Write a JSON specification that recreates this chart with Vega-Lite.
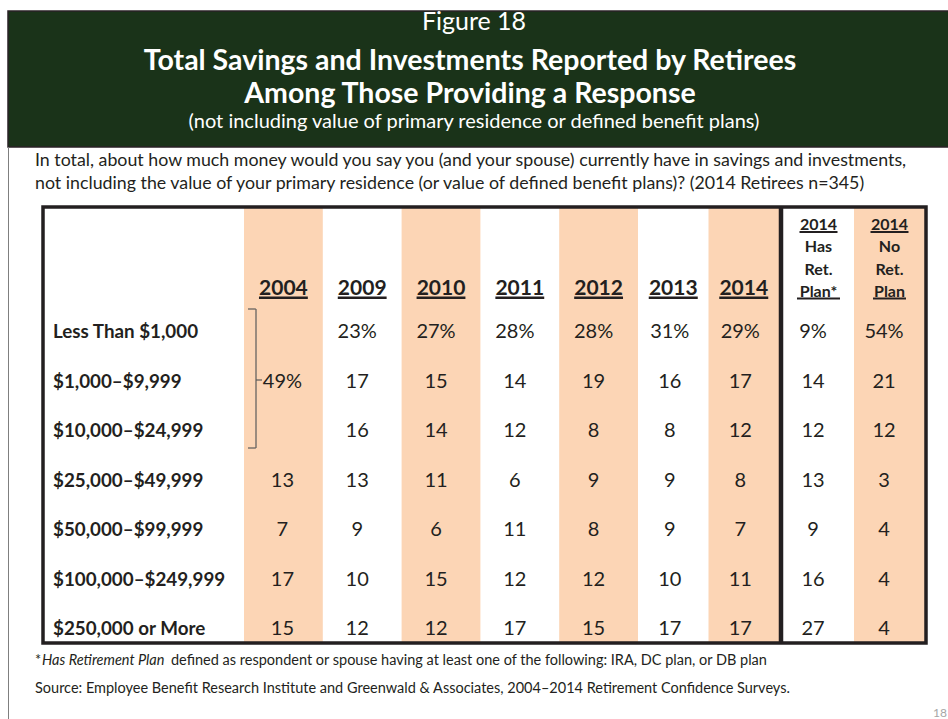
{
  "$schema": "https://vega.github.io/schema/vega-lite/v6.json",
  "width": 948,
  "height": 719,
  "autosize": {"type": "fit", "contains": "padding"},
  "padding": 0,
  "background": "white",
  "config": {"view": {"stroke": null}, "text": {"font": "Lato", "color": "#231f20"}},
  "datasets": {
    "texts": [
      {"id": "fig", "text": "Figure 18"},
      {"id": "title", "text": "Total Savings and Investments Reported by Retirees\nAmong Those Providing a Response"},
      {"id": "sub", "text": "(not including value of primary residence or defined benefit plans)"},
      {"id": "q", "text": "In total, about how much money would you say you (and your spouse) currently have in savings and investments,\nnot including the value of your primary residence (or value of defined benefit plans)? (2014 Retirees n=345)"},
      {"id": "fn1", "text": "*"},
      {"id": "fn2", "text": "Has Retirement Plan"},
      {"id": "fn3", "text": "defined as respondent or spouse having at least one of the following: IRA, DC plan, or DB plan"},
      {"id": "src", "text": "Source:  Employee Benefit Research Institute and Greenwald & Associates, 2004–2014 Retirement Confidence Surveys."},
      {"id": "pg", "text": "18"}
    ],
    "cols": [
      {"col": "2004", "label": "2004"},
      {"col": "2009", "label": "2009"},
      {"col": "2010", "label": "2010"},
      {"col": "2011", "label": "2011"},
      {"col": "2012", "label": "2012"},
      {"col": "2013", "label": "2013"},
      {"col": "2014", "label": "2014"},
      {"col": "Has", "label": "2014\nHas\nRet.\nPlan*"},
      {"col": "No", "label": "2014\nNo\nRet.\nPlan"}
    ],
    "rows": [
      {"row": "Less Than $1,000"},
      {"row": "$1,000–$9,999"},
      {"row": "$10,000–$24,999"},
      {"row": "$25,000–$49,999"},
      {"row": "$50,000–$99,999"},
      {"row": "$100,000–$249,999"},
      {"row": "$250,000 or More"}
    ],
    "cells": [
      {"row": "Less Than $1,000", "col": "2009", "value": "23%"},
      {"row": "Less Than $1,000", "col": "2010", "value": "27%"},
      {"row": "Less Than $1,000", "col": "2011", "value": "28%"},
      {"row": "Less Than $1,000", "col": "2012", "value": "28%"},
      {"row": "Less Than $1,000", "col": "2013", "value": "31%"},
      {"row": "Less Than $1,000", "col": "2014", "value": "29%"},
      {"row": "Less Than $1,000", "col": "Has", "value": "9%"},
      {"row": "Less Than $1,000", "col": "No", "value": "54%"},
      {"row": "$1,000–$9,999", "col": "2004", "value": "49%"},
      {"row": "$1,000–$9,999", "col": "2009", "value": "17"},
      {"row": "$1,000–$9,999", "col": "2010", "value": "15"},
      {"row": "$1,000–$9,999", "col": "2011", "value": "14"},
      {"row": "$1,000–$9,999", "col": "2012", "value": "19"},
      {"row": "$1,000–$9,999", "col": "2013", "value": "16"},
      {"row": "$1,000–$9,999", "col": "2014", "value": "17"},
      {"row": "$1,000–$9,999", "col": "Has", "value": "14"},
      {"row": "$1,000–$9,999", "col": "No", "value": "21"},
      {"row": "$10,000–$24,999", "col": "2009", "value": "16"},
      {"row": "$10,000–$24,999", "col": "2010", "value": "14"},
      {"row": "$10,000–$24,999", "col": "2011", "value": "12"},
      {"row": "$10,000–$24,999", "col": "2012", "value": "8"},
      {"row": "$10,000–$24,999", "col": "2013", "value": "8"},
      {"row": "$10,000–$24,999", "col": "2014", "value": "12"},
      {"row": "$10,000–$24,999", "col": "Has", "value": "12"},
      {"row": "$10,000–$24,999", "col": "No", "value": "12"},
      {"row": "$25,000–$49,999", "col": "2004", "value": "13"},
      {"row": "$25,000–$49,999", "col": "2009", "value": "13"},
      {"row": "$25,000–$49,999", "col": "2010", "value": "11"},
      {"row": "$25,000–$49,999", "col": "2011", "value": "6"},
      {"row": "$25,000–$49,999", "col": "2012", "value": "9"},
      {"row": "$25,000–$49,999", "col": "2013", "value": "9"},
      {"row": "$25,000–$49,999", "col": "2014", "value": "8"},
      {"row": "$25,000–$49,999", "col": "Has", "value": "13"},
      {"row": "$25,000–$49,999", "col": "No", "value": "3"},
      {"row": "$50,000–$99,999", "col": "2004", "value": "7"},
      {"row": "$50,000–$99,999", "col": "2009", "value": "9"},
      {"row": "$50,000–$99,999", "col": "2010", "value": "6"},
      {"row": "$50,000–$99,999", "col": "2011", "value": "11"},
      {"row": "$50,000–$99,999", "col": "2012", "value": "8"},
      {"row": "$50,000–$99,999", "col": "2013", "value": "9"},
      {"row": "$50,000–$99,999", "col": "2014", "value": "7"},
      {"row": "$50,000–$99,999", "col": "Has", "value": "9"},
      {"row": "$50,000–$99,999", "col": "No", "value": "4"},
      {"row": "$100,000–$249,999", "col": "2004", "value": "17"},
      {"row": "$100,000–$249,999", "col": "2009", "value": "10"},
      {"row": "$100,000–$249,999", "col": "2010", "value": "15"},
      {"row": "$100,000–$249,999", "col": "2011", "value": "12"},
      {"row": "$100,000–$249,999", "col": "2012", "value": "12"},
      {"row": "$100,000–$249,999", "col": "2013", "value": "10"},
      {"row": "$100,000–$249,999", "col": "2014", "value": "11"},
      {"row": "$100,000–$249,999", "col": "Has", "value": "16"},
      {"row": "$100,000–$249,999", "col": "No", "value": "4"},
      {"row": "$250,000 or More", "col": "2004", "value": "15"},
      {"row": "$250,000 or More", "col": "2009", "value": "12"},
      {"row": "$250,000 or More", "col": "2010", "value": "12"},
      {"row": "$250,000 or More", "col": "2011", "value": "17"},
      {"row": "$250,000 or More", "col": "2012", "value": "15"},
      {"row": "$250,000 or More", "col": "2013", "value": "17"},
      {"row": "$250,000 or More", "col": "2014", "value": "17"},
      {"row": "$250,000 or More", "col": "Has", "value": "27"},
      {"row": "$250,000 or More", "col": "No", "value": "4"}
    ]
  },
  "resolve": {"scale": {"x": "independent", "y": "independent"}},
  "layer": [
    {
      "data": {"values": [{}]},
      "mark": {"type": "rect", "fill": "#1a3319", "stroke": "#2a2226", "strokeWidth": 1.5},
      "encoding": {
        "x": {"datum": 8, "type": "quantitative", "scale": {"domain": [0, 948], "range": [0, 948], "nice": false, "zero": false}, "axis": null},
        "x2": {"datum": 950},
        "y": {"datum": 11, "type": "quantitative", "scale": {"domain": [0, 719], "range": [0, 719], "nice": false, "zero": false}, "axis": null},
        "y2": {"datum": 147}
      }
    },
    {
      "data": {"values": [{}]},
      "mark": {"type": "rule", "color": "#7f7f7f", "strokeWidth": 1},
      "encoding": {
        "x": {"datum": 8.5, "type": "quantitative", "scale": {"domain": [0, 948], "range": [0, 948], "nice": false, "zero": false}, "axis": null},
        "y": {"datum": 147, "type": "quantitative", "scale": {"domain": [0, 719], "range": [0, 719], "nice": false, "zero": false}, "axis": null},
        "y2": {"datum": 719}
      }
    },
    {
      "data": {"name": "cols"},
      "transform": [{"filter": {"field": "col", "oneOf": ["2004", "2010", "2012"]}}],
      "mark": {"type": "rect", "fill": "#fcd5b5"},
      "encoding": {
        "x": {"field": "col", "type": "nominal", "scale": {"type": "band", "domain": ["2004", "2009", "2010", "2011", "2012"], "range": [244, 638], "paddingInner": 0, "paddingOuter": 0}, "axis": null},
        "y": {"datum": 207, "type": "quantitative", "scale": {"domain": [0, 719], "range": [0, 719], "nice": false, "zero": false}, "axis": null},
        "y2": {"datum": 643}
      }
    },
    {
      "data": {"name": "cols"},
      "transform": [{"filter": {"field": "col", "oneOf": ["2014"]}}],
      "mark": {"type": "rect", "fill": "#fcd5b5"},
      "encoding": {
        "x": {"field": "col", "type": "nominal", "scale": {"type": "band", "domain": ["2013", "2014"], "range": [638, 779], "paddingInner": 0, "paddingOuter": 0}, "axis": null},
        "y": {"datum": 207, "type": "quantitative", "scale": {"domain": [0, 719], "range": [0, 719], "nice": false, "zero": false}, "axis": null},
        "y2": {"datum": 643}
      }
    },
    {
      "data": {"name": "cols"},
      "transform": [{"filter": {"field": "col", "oneOf": ["No"]}}],
      "mark": {"type": "rect", "fill": "#fcd5b5"},
      "encoding": {
        "x": {"field": "col", "type": "nominal", "scale": {"type": "band", "domain": ["Has", "No"], "range": [783, 925], "paddingInner": 0, "paddingOuter": 0}, "axis": null},
        "y": {"datum": 207, "type": "quantitative", "scale": {"domain": [0, 719], "range": [0, 719], "nice": false, "zero": false}, "axis": null},
        "y2": {"datum": 643}
      }
    },
    {
      "data": {"name": "texts"},
      "transform": [{"filter": "datum.id === 'fig'"}],
      "mark": {"type": "text", "fontSize": 25, "color": "white", "align": "center", "baseline": "alphabetic"},
      "encoding": {
        "x": {"datum": 474, "type": "quantitative", "scale": {"domain": [0, 948], "range": [0, 948], "nice": false, "zero": false}, "axis": null},
        "y": {"datum": 30, "type": "quantitative", "scale": {"domain": [0, 719], "range": [0, 719], "nice": false, "zero": false}, "axis": null},
        "text": {"field": "text"}
      }
    },
    {
      "data": {"name": "texts"},
      "transform": [{"filter": "datum.id === 'title'"}],
      "mark": {"type": "text", "fontSize": 28.5, "fontWeight": "bold", "color": "white", "align": "center", "baseline": "alphabetic", "lineBreak": "\n", "lineHeight": 33},
      "encoding": {
        "x": {"datum": 470, "type": "quantitative", "scale": {"domain": [0, 948], "range": [0, 948], "nice": false, "zero": false}, "axis": null},
        "y": {"datum": 70, "type": "quantitative", "scale": {"domain": [0, 719], "range": [0, 719], "nice": false, "zero": false}, "axis": null},
        "text": {"field": "text"}
      }
    },
    {
      "data": {"name": "texts"},
      "transform": [{"filter": "datum.id === 'sub'"}],
      "mark": {"type": "text", "fontSize": 20, "color": "white", "align": "center", "baseline": "alphabetic"},
      "encoding": {
        "x": {"datum": 474, "type": "quantitative", "scale": {"domain": [0, 948], "range": [0, 948], "nice": false, "zero": false}, "axis": null},
        "y": {"datum": 128, "type": "quantitative", "scale": {"domain": [0, 719], "range": [0, 719], "nice": false, "zero": false}, "axis": null},
        "text": {"field": "text"}
      }
    },
    {
      "data": {"name": "texts"},
      "transform": [{"filter": "datum.id === 'q'"}],
      "mark": {"type": "text", "fontSize": 17.8, "align": "left", "baseline": "alphabetic", "lineBreak": "\n", "lineHeight": 22.5},
      "encoding": {
        "x": {"datum": 35, "type": "quantitative", "scale": {"domain": [0, 948], "range": [0, 948], "nice": false, "zero": false}, "axis": null},
        "y": {"datum": 166, "type": "quantitative", "scale": {"domain": [0, 719], "range": [0, 719], "nice": false, "zero": false}, "axis": null},
        "text": {"field": "text"}
      }
    },
    {
      "data": {"name": "cols"},
      "transform": [{"filter": {"field": "col", "oneOf": ["2004", "2009", "2010", "2011", "2012"]}}],
      "mark": {"type": "text", "fontSize": 21, "fontWeight": "bold", "align": "center", "baseline": "alphabetic"},
      "encoding": {
        "x": {"field": "col", "type": "nominal", "scale": {"type": "band", "domain": ["2004", "2009", "2010", "2011", "2012"], "range": [244, 638], "paddingInner": 0, "paddingOuter": 0}, "axis": null},
        "y": {"datum": 295, "type": "quantitative", "scale": {"domain": [0, 719], "range": [0, 719], "nice": false, "zero": false}, "axis": null},
        "text": {"field": "label"}
      }
    },
    {
      "data": {"name": "cols"},
      "transform": [{"filter": {"field": "col", "oneOf": ["2004", "2009", "2010", "2011", "2012"]}}],
      "mark": {"type": "bar", "width": {"band": 0.62}, "color": "#231f20"},
      "encoding": {
        "x": {"field": "col", "type": "nominal", "scale": {"type": "band", "domain": ["2004", "2009", "2010", "2011", "2012"], "range": [244, 638], "paddingInner": 0, "paddingOuter": 0}, "axis": null},
        "y": {"datum": 296.5, "type": "quantitative", "scale": {"domain": [0, 719], "range": [0, 719], "nice": false, "zero": false}, "axis": null},
        "y2": {"datum": 299}
      }
    },
    {
      "data": {"name": "cols"},
      "transform": [{"filter": {"field": "col", "oneOf": ["2013", "2014"]}}],
      "mark": {"type": "text", "fontSize": 21, "fontWeight": "bold", "align": "center", "baseline": "alphabetic"},
      "encoding": {
        "x": {"field": "col", "type": "nominal", "scale": {"type": "band", "domain": ["2013", "2014"], "range": [638, 779], "paddingInner": 0, "paddingOuter": 0}, "axis": null},
        "y": {"datum": 295, "type": "quantitative", "scale": {"domain": [0, 719], "range": [0, 719], "nice": false, "zero": false}, "axis": null},
        "text": {"field": "label"}
      }
    },
    {
      "data": {"name": "cols"},
      "transform": [{"filter": {"field": "col", "oneOf": ["2013", "2014"]}}],
      "mark": {"type": "bar", "width": 49, "color": "#231f20"},
      "encoding": {
        "x": {"field": "col", "type": "nominal", "scale": {"type": "band", "domain": ["2013", "2014"], "range": [638, 779], "paddingInner": 0, "paddingOuter": 0}, "axis": null},
        "y": {"datum": 296.5, "type": "quantitative", "scale": {"domain": [0, 719], "range": [0, 719], "nice": false, "zero": false}, "axis": null},
        "y2": {"datum": 299}
      }
    },
    {
      "data": {"name": "cols"},
      "transform": [{"filter": {"field": "col", "oneOf": ["Has", "No"]}}],
      "mark": {"type": "text", "fontSize": 16, "fontWeight": "bold", "align": "center", "baseline": "alphabetic", "lineBreak": "\n", "lineHeight": 22.3},
      "encoding": {
        "x": {"field": "col", "type": "nominal", "scale": {"type": "band", "domain": ["Has", "No"], "range": [783, 925], "paddingInner": 0, "paddingOuter": 0}, "axis": null},
        "y": {"datum": 230, "type": "quantitative", "scale": {"domain": [0, 719], "range": [0, 719], "nice": false, "zero": false}, "axis": null},
        "text": {"field": "label"}
      }
    },
    {
      "data": {"name": "cols"},
      "transform": [{"filter": {"field": "col", "oneOf": ["Has", "No"]}}],
      "mark": {"type": "bar", "width": 38, "color": "#231f20"},
      "encoding": {
        "x": {"field": "col", "type": "nominal", "scale": {"type": "band", "domain": ["Has", "No"], "range": [783, 925], "paddingInner": 0, "paddingOuter": 0}, "axis": null},
        "y": {"datum": 231, "type": "quantitative", "scale": {"domain": [0, 719], "range": [0, 719], "nice": false, "zero": false}, "axis": null},
        "y2": {"datum": 233}
      }
    },
    {
      "data": {"name": "cols"},
      "transform": [{"filter": {"field": "col", "oneOf": ["Has"]}}],
      "mark": {"type": "bar", "width": 43, "color": "#231f20"},
      "encoding": {
        "x": {"field": "col", "type": "nominal", "scale": {"type": "band", "domain": ["Has", "No"], "range": [783, 925], "paddingInner": 0, "paddingOuter": 0}, "axis": null},
        "y": {"datum": 297.5, "type": "quantitative", "scale": {"domain": [0, 719], "range": [0, 719], "nice": false, "zero": false}, "axis": null},
        "y2": {"datum": 299.5}
      }
    },
    {
      "data": {"name": "cols"},
      "transform": [{"filter": {"field": "col", "oneOf": ["No"]}}],
      "mark": {"type": "bar", "width": 33, "color": "#231f20"},
      "encoding": {
        "x": {"field": "col", "type": "nominal", "scale": {"type": "band", "domain": ["Has", "No"], "range": [783, 925], "paddingInner": 0, "paddingOuter": 0}, "axis": null},
        "y": {"datum": 297.5, "type": "quantitative", "scale": {"domain": [0, 719], "range": [0, 719], "nice": false, "zero": false}, "axis": null},
        "y2": {"datum": 299.5}
      }
    },
    {
      "data": {"name": "cells"},
      "transform": [{"filter": {"field": "col", "oneOf": ["2009", "2010", "2011", "2012"]}}],
      "mark": {"type": "text", "fontSize": 20, "align": "center", "baseline": "alphabetic", "dx": -5},
      "encoding": {
        "x": {"field": "col", "type": "nominal", "scale": {"type": "band", "domain": ["2004", "2009", "2010", "2011", "2012"], "range": [244, 638], "paddingInner": 0, "paddingOuter": 0}, "axis": null},
        "y": {"field": "row", "type": "nominal", "scale": {"type": "point", "domain": ["Less Than $1,000", "$1,000–$9,999", "$10,000–$24,999", "$25,000–$49,999", "$50,000–$99,999", "$100,000–$249,999", "$250,000 or More"], "range": [338, 635], "padding": 0}, "axis": null},
        "text": {"field": "value"}
      }
    },
    {
      "data": {"name": "cells"},
      "transform": [{"filter": {"field": "col", "oneOf": ["2004"]}}],
      "mark": {"type": "text", "fontSize": 20, "align": "center", "baseline": "alphabetic", "dx": -1},
      "encoding": {
        "x": {"field": "col", "type": "nominal", "scale": {"type": "band", "domain": ["2004", "2009", "2010", "2011", "2012"], "range": [244, 638], "paddingInner": 0, "paddingOuter": 0}, "axis": null},
        "y": {"field": "row", "type": "nominal", "scale": {"type": "point", "domain": ["Less Than $1,000", "$1,000–$9,999", "$10,000–$24,999", "$25,000–$49,999", "$50,000–$99,999", "$100,000–$249,999", "$250,000 or More"], "range": [338, 635], "padding": 0}, "axis": null},
        "text": {"field": "value"}
      }
    },
    {
      "data": {"name": "cells"},
      "transform": [{"filter": {"field": "col", "oneOf": ["2013", "2014"]}}],
      "mark": {"type": "text", "fontSize": 20, "align": "center", "baseline": "alphabetic", "dx": -3.5},
      "encoding": {
        "x": {"field": "col", "type": "nominal", "scale": {"type": "band", "domain": ["2013", "2014"], "range": [638, 779], "paddingInner": 0, "paddingOuter": 0}, "axis": null},
        "y": {"field": "row", "type": "nominal", "scale": {"type": "point", "domain": ["Less Than $1,000", "$1,000–$9,999", "$10,000–$24,999", "$25,000–$49,999", "$50,000–$99,999", "$100,000–$249,999", "$250,000 or More"], "range": [338, 635], "padding": 0}, "axis": null},
        "text": {"field": "value"}
      }
    },
    {
      "data": {"name": "cells"},
      "transform": [{"filter": {"field": "col", "oneOf": ["Has", "No"]}}],
      "mark": {"type": "text", "fontSize": 20, "align": "center", "baseline": "alphabetic", "dx": -5.5},
      "encoding": {
        "x": {"field": "col", "type": "nominal", "scale": {"type": "band", "domain": ["Has", "No"], "range": [783, 925], "paddingInner": 0, "paddingOuter": 0}, "axis": null},
        "y": {"field": "row", "type": "nominal", "scale": {"type": "point", "domain": ["Less Than $1,000", "$1,000–$9,999", "$10,000–$24,999", "$25,000–$49,999", "$50,000–$99,999", "$100,000–$249,999", "$250,000 or More"], "range": [338, 635], "padding": 0}, "axis": null},
        "text": {"field": "value"}
      }
    },
    {
      "data": {"name": "rows"},
      "mark": {"type": "text", "fontSize": 18.8, "fontWeight": "bold", "align": "left", "baseline": "alphabetic"},
      "encoding": {
        "x": {"datum": 53, "type": "quantitative", "scale": {"domain": [0, 948], "range": [0, 948], "nice": false, "zero": false}, "axis": null},
        "y": {"field": "row", "type": "nominal", "scale": {"type": "point", "domain": ["Less Than $1,000", "$1,000–$9,999", "$10,000–$24,999", "$25,000–$49,999", "$50,000–$99,999", "$100,000–$249,999", "$250,000 or More"], "range": [338, 635], "padding": 0}, "axis": null},
        "text": {"field": "row"}
      }
    },
    {
      "data": {"values": [{}]},
      "mark": {"type": "rule", "color": "#5a5a5a", "strokeWidth": 1.2},
      "encoding": {
        "x": {"datum": 256, "type": "quantitative", "scale": {"domain": [0, 948], "range": [0, 948], "nice": false, "zero": false}, "axis": null},
        "y": {"datum": 309, "type": "quantitative", "scale": {"domain": [0, 719], "range": [0, 719], "nice": false, "zero": false}, "axis": null},
        "y2": {"datum": 448}
      }
    },
    {
      "data": {"values": [{}]},
      "mark": {"type": "rule", "color": "#5a5a5a", "strokeWidth": 1.2},
      "encoding": {
        "x": {"datum": 248, "type": "quantitative", "scale": {"domain": [0, 948], "range": [0, 948], "nice": false, "zero": false}, "axis": null},
        "x2": {"datum": 256},
        "y": {"datum": 309, "type": "quantitative", "scale": {"domain": [0, 719], "range": [0, 719], "nice": false, "zero": false}, "axis": null}
      }
    },
    {
      "data": {"values": [{}]},
      "mark": {"type": "rule", "color": "#5a5a5a", "strokeWidth": 1.2},
      "encoding": {
        "x": {"datum": 248, "type": "quantitative", "scale": {"domain": [0, 948], "range": [0, 948], "nice": false, "zero": false}, "axis": null},
        "x2": {"datum": 256},
        "y": {"datum": 448, "type": "quantitative", "scale": {"domain": [0, 719], "range": [0, 719], "nice": false, "zero": false}, "axis": null}
      }
    },
    {
      "data": {"values": [{}]},
      "mark": {"type": "rule", "color": "#5a5a5a", "strokeWidth": 1.2},
      "encoding": {
        "x": {"datum": 256, "type": "quantitative", "scale": {"domain": [0, 948], "range": [0, 948], "nice": false, "zero": false}, "axis": null},
        "x2": {"datum": 262},
        "y": {"datum": 380, "type": "quantitative", "scale": {"domain": [0, 719], "range": [0, 719], "nice": false, "zero": false}, "axis": null}
      }
    },
    {
      "data": {"values": [{}]},
      "mark": {"type": "rect", "fill": null, "stroke": "#231f20", "strokeWidth": 3.5},
      "encoding": {
        "x": {"datum": 43, "type": "quantitative", "scale": {"domain": [0, 948], "range": [0, 948], "nice": false, "zero": false}, "axis": null},
        "x2": {"datum": 926},
        "y": {"datum": 207, "type": "quantitative", "scale": {"domain": [0, 719], "range": [0, 719], "nice": false, "zero": false}, "axis": null},
        "y2": {"datum": 643}
      }
    },
    {
      "data": {"values": [{}]},
      "mark": {"type": "rule", "color": "#231f20", "strokeWidth": 4.5},
      "encoding": {
        "x": {"datum": 781, "type": "quantitative", "scale": {"domain": [0, 948], "range": [0, 948], "nice": false, "zero": false}, "axis": null},
        "y": {"datum": 207, "type": "quantitative", "scale": {"domain": [0, 719], "range": [0, 719], "nice": false, "zero": false}, "axis": null},
        "y2": {"datum": 643}
      }
    },
    {
      "data": {"name": "texts"},
      "transform": [{"filter": "datum.id === 'fn1'"}],
      "mark": {"type": "text", "fontSize": 14.5, "align": "left", "baseline": "alphabetic"},
      "encoding": {
        "x": {"datum": 35, "type": "quantitative", "scale": {"domain": [0, 948], "range": [0, 948], "nice": false, "zero": false}, "axis": null},
        "y": {"datum": 665, "type": "quantitative", "scale": {"domain": [0, 719], "range": [0, 719], "nice": false, "zero": false}, "axis": null},
        "text": {"field": "text"}
      }
    },
    {
      "data": {"name": "texts"},
      "transform": [{"filter": "datum.id === 'fn2'"}],
      "mark": {"type": "text", "fontSize": 14.5, "fontStyle": "italic", "align": "left", "baseline": "alphabetic"},
      "encoding": {
        "x": {"datum": 42, "type": "quantitative", "scale": {"domain": [0, 948], "range": [0, 948], "nice": false, "zero": false}, "axis": null},
        "y": {"datum": 665, "type": "quantitative", "scale": {"domain": [0, 719], "range": [0, 719], "nice": false, "zero": false}, "axis": null},
        "text": {"field": "text"}
      }
    },
    {
      "data": {"name": "texts"},
      "transform": [{"filter": "datum.id === 'fn3'"}],
      "mark": {"type": "text", "fontSize": 14.5, "align": "left", "baseline": "alphabetic"},
      "encoding": {
        "x": {"datum": 171, "type": "quantitative", "scale": {"domain": [0, 948], "range": [0, 948], "nice": false, "zero": false}, "axis": null},
        "y": {"datum": 665, "type": "quantitative", "scale": {"domain": [0, 719], "range": [0, 719], "nice": false, "zero": false}, "axis": null},
        "text": {"field": "text"}
      }
    },
    {
      "data": {"name": "texts"},
      "transform": [{"filter": "datum.id === 'src'"}],
      "mark": {"type": "text", "fontSize": 14.5, "align": "left", "baseline": "alphabetic"},
      "encoding": {
        "x": {"datum": 35, "type": "quantitative", "scale": {"domain": [0, 948], "range": [0, 948], "nice": false, "zero": false}, "axis": null},
        "y": {"datum": 693, "type": "quantitative", "scale": {"domain": [0, 719], "range": [0, 719], "nice": false, "zero": false}, "axis": null},
        "text": {"field": "text"}
      }
    },
    {
      "data": {"name": "texts"},
      "transform": [{"filter": "datum.id === 'pg'"}],
      "mark": {"type": "text", "fontSize": 12, "color": "#a6a6a6", "align": "left", "baseline": "alphabetic"},
      "encoding": {
        "x": {"datum": 933, "type": "quantitative", "scale": {"domain": [0, 948], "range": [0, 948], "nice": false, "zero": false}, "axis": null},
        "y": {"datum": 717, "type": "quantitative", "scale": {"domain": [0, 719], "range": [0, 719], "nice": false, "zero": false}, "axis": null},
        "text": {"field": "text"}
      }
    }
  ]
}
